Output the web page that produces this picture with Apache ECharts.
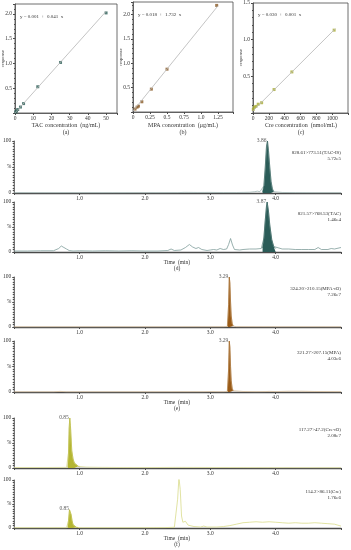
<!DOCTYPE html>
<html><head><meta charset="utf-8">
<script src="https://cdn.jsdelivr.net/npm/echarts@6/dist/echarts.min.js"></script>
<style>html,body{margin:0;padding:0;background:#fff}#c{width:351px;height:550px}</style>
</head><body><div id="c"></div>
<script>
// ---------- calibration curves ----------
const tacConc = [0.4, 0.8, 1.5, 3, 4.7, 12.5, 25, 50];
const tacResp = [0.02, 0.04, 0.07, 0.12, 0.19, 0.53, 1.02, 2.02];
const tacFit = [[0, 0.001], [50, 2.051]];
const mpaConc = [0.03, 0.06, 0.08, 0.13, 0.27, 0.50, 1.23];
const mpaResp = [0.06, 0.10, 0.12, 0.21, 0.47, 0.88, 2.19];
const mpaFit = [[0, 0.018], [1.25, 2.183]];
const creConc = [4, 16, 37, 66, 109, 266, 491, 1025];
const creResp = [0.05, 0.08, 0.09, 0.12, 0.14, 0.32, 0.56, 1.13];
const creFit = [[0, 0.03], [1040, 1.15]];
const equations = ['y = 0.001  +  0.041  x', 'y = 0.018  +  1.732  x', 'y = 0.030  +  0.001  x'];
const xNames = ['TAC concentration  (ng/mL)', 'MPA concentration  (μg/mL)', 'Cre concentration  (nmol/mL)'];
const panelTags = ['(a)', '(b)', '(c)'];

// ---------- chromatograms: [time (min), %] ----------
const tacIsBase1 = [[0,0.6],[0.5,0.5],[1.0,0.6],[1.5,0.5],[2.0,0.6],[2.5,0.7],[2.6,1.2],[2.8,1.0],[3.0,1.1],[3.2,0.9],[3.4,0.9],[3.6,1.4],[3.68,2.5],[3.72,3.5],[3.76,2.5],[3.79,1.8]];
const tacIsPeak = [[3.80,2],[3.82,14],[3.84,48],[3.86,90],[3.875,100],[3.89,82],[3.91,50],[3.93,22],[3.95,8],[3.97,2.5]];
const tacIsBase2 = [[4.0,1.5],[4.1,1.0],[4.3,0.7],[4.6,0.5],[5.0,0.5]];

const tacBase1 = [[0,2],[0.2,2],[0.4,2.5],[0.6,2.5],[0.68,7],[0.72,12],[0.76,9],[0.8,6],[0.84,3],[0.9,2],[1.0,2.5],[1.2,2],[1.4,2.5],[1.6,2],[1.8,2.5],[2.0,2],[2.2,2],[2.35,3],[2.4,6],[2.45,3],[2.55,4],[2.62,9],[2.68,15],[2.73,10],[2.78,7],[2.82,9],[2.87,5],[2.95,3],[3.0,4],[3.05,5],[3.1,4],[3.15,7],[3.2,5],[3.25,6],[3.28,15],[3.31,27],[3.34,14],[3.37,5],[3.45,4],[3.5,5],[3.6,6],[3.7,6],[3.78,7]];
const tacPeak = [[3.80,8],[3.82,28],[3.84,62],[3.86,92],[3.87,100],[3.89,82],[3.91,54],[3.94,25],[3.97,11],[4.0,7]];
const tacBase2 = [[4.05,8],[4.1,6],[4.2,6],[4.3,5],[4.4,5],[4.5,5],[4.6,5],[4.65,9],[4.7,5],[4.8,5],[4.85,7],[4.9,6],[5.0,9]];

const mpaIsBase1 = [[0,0.3],[1,0.3],[2,0.3],[3,0.4],[3.2,0.5],[3.26,1]];
const mpaIsPeak = [[3.265,2],[3.28,45],[3.29,100],[3.30,88],[3.31,50],[3.32,22],[3.335,7],[3.35,2]];
const mpaIsBase2 = [[3.4,0.6],[4,0.4],[5,0.3]];

const mpaBase1 = [[0,0.3],[0.6,0.3],[0.7,1.2],[0.75,0.8],[0.8,0.3],[1,0.3],[2,0.3],[2.9,0.5],[3.0,0.8],[3.1,0.5],[3.2,0.5],[3.26,1]];
const mpaPeak = [[3.265,2],[3.28,45],[3.29,100],[3.30,88],[3.31,50],[3.32,22],[3.335,7],[3.35,2.5]];
const mpaBase2 = [[3.38,1.5],[3.5,1.0],[3.7,0.6],[3.85,0.8],[3.9,1.2],[4.0,0.8],[4.2,1.5],[4.4,1.5],[4.6,1],[5,0.6]];

const creIsBase1 = [[0,1],[0.5,1],[0.8,1.2]];
const creIsPeak = [[0.82,2],[0.83,30],[0.84,80],[0.85,100],[0.86,85],[0.87,60],[0.88,35],[0.9,18],[0.92,10],[0.95,6],[0.98,3.5],[1.0,2.5]];
const creIsBase2 = [[1.1,1.8],[1.3,1.3],[1.6,1],[2,0.8],[2.5,1.2],[3,1],[3.5,0.8],[4,0.6],[5,0.5]];

const creBase1 = [[0,0.5],[0.5,0.5],[0.8,0.6]];
const crePeak = [[0.82,1],[0.83,15],[0.845,38],[0.855,40],[0.87,28],[0.885,15],[0.9,7],[0.92,3],[0.95,1.5],[0.98,0.8]];
const creBase2 = [[1.0,0.6],[1.5,0.5],[2.0,0.5],[2.3,0.8],[2.45,1.5],[2.48,5],[2.5,60],[2.52,105],[2.54,80],[2.56,25],[2.58,12],[2.62,14],[2.66,6],[2.75,3],[2.85,2],[2.9,4],[2.95,2],[3.1,2],[3.2,3],[3.3,5],[3.4,8],[3.5,11],[3.6,12],[3.7,13],[3.8,12],[3.9,13],[4.0,12],[4.1,11],[4.2,10],[4.3,11],[4.4,10],[4.5,10],[4.6,11],[4.7,10],[4.8,9],[4.9,8],[5.0,4]];

const peakTimes = ['3.86', '3.87', '3.29', '3.29', '0.85', '0.85'];
const peakTops = [[3.875,100],[3.87,100],[3.29,100],[3.29,100],[0.85,100],[0.855,40]];
const transitions = ['828.61>773.51(TAC-IS)', '821.57>768.53(TAC)', '324.20>210.15(MPA-d3)', '321.27>207.15(MPA)', '117.27>47.2(Cre-d3)', '114.2>86.11(Cre)'];
const intensities = ['5.72e5', '1.46e4', '7.26e7', '4.03e6', '2.08e7', '1.76e6'];
const chromTicks = ['1.0', '2.0', '3.0', '4.0'];
const groupTags = ['(d)', '(e)', '(f)'];

// ---------- layout / style ----------
const FONT = 'Liberation Serif';
const AX = '#4a4a4a';
const calGrids = [
  {left: 15, top: 4, width: 102, height: 109, xmax: 56, xint: 10, ymax: 2.2, xlast: 50, ylast: 2.0},
  {left: 133, top: 2, width: 100, height: 110, xmax: 1.47, xint: 0.25, ymax: 2.26, xlast: 1.25, ylast: 2.0},
  {left: 253, top: 2, width: 96, height: 111, xmax: 1200, xint: 200, ymax: 1.5, xlast: 1000, ylast: 1.5}
];
const calColors = ['#2d5f58', '#8a5a26', '#a9ad35'];
const chromTops = [141, 202, 277, 341, 418, 480];
const chromBottoms = [193, 252, 327, 392, 468, 528];
const peakColors = ['#2b5c58', '#2b5c58', '#9a5b17', '#9a5b17', '#b5b632', '#b5b632'];
const traceColors = ['#9fb5b3', '#7f9d9a', '#d6bd9a', '#d6bd9a', '#dcdd9a', '#d9dc8c'];

const grids = [], xAxes = [], yAxes = [], series = [], graphics = [];

calGrids.forEach((g, i) => {
  grids.push({left: g.left, top: g.top, width: g.width, height: g.height, show: true, borderColor: AX, borderWidth: 0.8});
  xAxes.push({type: 'value', gridIndex: i, min: 0, max: g.xmax, interval: g.xint,
    axisLine: {lineStyle: {color: AX, width: 0.8}}, axisTick: {length: 2, lineStyle: {color: AX}},
    splitLine: {show: false},
    axisLabel: {fontFamily: FONT, fontSize: 5.5, color: '#333', margin: 3,
      formatter: v => v > g.xlast + 1e-9 ? '' : (v === 1 ? '1.0' : String(v))}});
  yAxes.push({type: 'value', gridIndex: i, min: 0, max: g.ymax, interval: 0.5,
    axisLine: {lineStyle: {color: AX, width: 0.8}}, axisTick: {length: 2, lineStyle: {color: AX}},
    minorTick: {show: true, splitNumber: 5, length: 1, lineStyle: {color: AX}},
    splitLine: {show: false},
    axisLabel: {fontFamily: FONT, fontSize: 5.5, color: '#333', margin: 3,
      formatter: v => (v === 0 || v > g.ylast + 1e-9) ? '' : v.toFixed(1)}});
  graphics.push({type: 'text', left: g.left + 5, top: g.top + 10, style: {text: equations[i], font: '5px ' + FONT, fill: '#333'}});
  graphics.push({type: 'text', x: g.left - 12, y: g.top + g.height / 2, rotation: Math.PI / 2, style: {text: 'response', font: '5px ' + FONT, fill: '#333', align: 'center', verticalAlign: 'middle'}});
  graphics.push({type: 'text', x: g.left + g.width / 2, y: 122, style: {text: xNames[i], font: '6px ' + FONT, fill: '#333', align: 'center'}});
  graphics.push({type: 'text', x: g.left + g.width / 2, y: 129, style: {text: panelTags[i], font: '6px ' + FONT, fill: '#333', align: 'center'}});
});

const calData = [[tacConc, tacResp, tacFit], [mpaConc, mpaResp, mpaFit], [creConc, creResp, creFit]];
calData.forEach((d, i) => {
  series.push({type: 'line', xAxisIndex: i, yAxisIndex: i, data: d[2], symbol: 'none', silent: true,
    lineStyle: {color: '#b5b5b5', width: 0.8}});
  series.push({type: 'scatter', xAxisIndex: i, yAxisIndex: i, data: d[0].map((x, k) => [x, d[1][k]]),
    symbol: 'rect', symbolSize: 3, itemStyle: {color: calColors[i]}});
});

const chromData = [
  [tacIsBase1, tacIsPeak, tacIsBase2], [tacBase1, tacPeak, tacBase2],
  [mpaIsBase1, mpaIsPeak, mpaIsBase2], [mpaBase1, mpaPeak, mpaBase2],
  [creIsBase1, creIsPeak, creIsBase2], [creBase1, crePeak, creBase2]
];

chromData.forEach((d, j) => {
  const gi = 3 + j;
  const top = chromTops[j], bottom = chromBottoms[j];
  grids.push({left: 12, right: 10, top: top, height: bottom - top});
  xAxes.push({type: 'value', gridIndex: gi, min: 0, max: 5, interval: 1,
    axisLine: {lineStyle: {color: AX, width: 1.3}}, axisTick: {length: 2, lineStyle: {color: AX}},
    splitLine: {show: false},
    axisLabel: {fontFamily: FONT, fontSize: 5.5, color: '#333', margin: 3,
      formatter: v => (v > 0 && v < 5) ? chromTicks[Math.round(v) - 1] : ''}});
  yAxes.push({type: 'value', gridIndex: gi, min: 0, max: 100, interval: 50,
    axisLine: {lineStyle: {color: AX, width: 1}}, axisTick: {length: 2, lineStyle: {color: AX}},
    minorTick: {show: true, splitNumber: 10, length: 1.5, lineStyle: {color: AX}},
    splitLine: {show: false},
    axisLabel: {fontFamily: FONT, fontSize: 5.5, color: '#333', margin: 3,
      formatter: v => v === 100 ? '100' : (v === 50 ? '%' : (v === 0 ? '0' : ''))}});
  const full = d[0].concat(d[1], d[2]);
  series.push({type: 'line', xAxisIndex: gi, yAxisIndex: gi, data: full, symbol: 'none', silent: true,
    lineStyle: {color: traceColors[j], width: 0.8}, clip: true});
  series.push({type: 'line', xAxisIndex: gi, yAxisIndex: gi, data: d[1], symbol: 'none', silent: true,
    lineStyle: {color: peakColors[j], width: 0.6}, areaStyle: {color: peakColors[j], opacity: 1}, clip: true});
  series.push({type: 'scatter', xAxisIndex: gi, yAxisIndex: gi, data: [peakTops[j]], symbolSize: 0, silent: true,
    label: {show: true, position: 'left', distance: 1, formatter: peakTimes[j], fontFamily: FONT, fontSize: 5.5, color: '#333'}});
  graphics.push({type: 'text', right: 10, top: top + 9, style: {text: transitions[j], font: '5px ' + FONT, fill: '#333', align: 'right'}});
  graphics.push({type: 'text', right: 10, top: top + 15, style: {text: intensities[j], font: '5px ' + FONT, fill: '#333', align: 'right'}});
  if (j % 2 === 1) {
    graphics.push({type: 'text', x: 177, y: bottom + 8, style: {text: 'Time  (min)', font: '5.5px ' + FONT, fill: '#333', align: 'center'}});
    graphics.push({type: 'text', x: 177, y: bottom + 14, style: {text: groupTags[(j - 1) / 2], font: '5.5px ' + FONT, fill: '#333', align: 'center'}});
  }
});

const chart = echarts.init(document.getElementById('c'), null, {renderer: 'canvas'});
chart.setOption({
  animation: false,
  backgroundColor: '#fff',
  grid: grids, xAxis: xAxes, yAxis: yAxes, series: series, graphic: graphics
});
</script>
</body></html>
